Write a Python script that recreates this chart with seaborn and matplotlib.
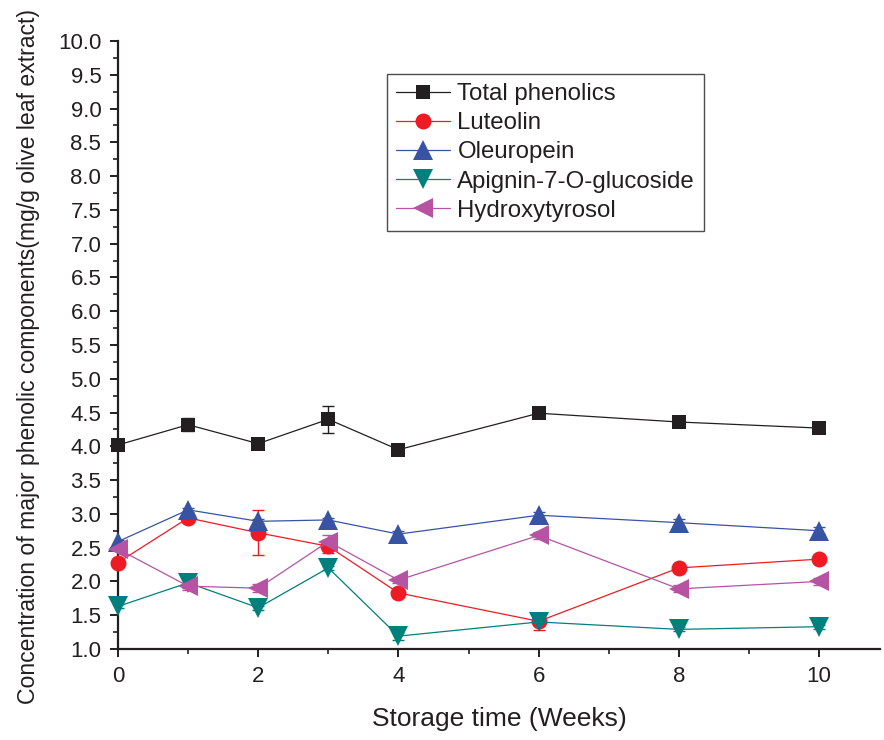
import numpy as np
import pandas as pd
import matplotlib
matplotlib.use("Agg")
import matplotlib.pyplot as plt
from matplotlib.ticker import MultipleLocator, FormatStrFormatter
import seaborn as sns

weeks = [0, 1, 2, 3, 4, 6, 8, 10]

total_phenolics = [4.02, 4.32, 4.04, 4.40, 3.95, 4.49, 4.36, 4.27]
total_phenolics_err = [0.03, 0.10, 0.03, 0.20, 0.03, 0.03, 0.03, 0.03]

luteolin = [2.28, 2.94, 2.72, 2.52, 1.83, 1.41, 2.20, 2.33]
luteolin_err = [0.05, 0.05, 0.33, 0.10, 0.03, 0.13, 0.03, 0.03]

oleuropein = [2.59, 3.06, 2.89, 2.91, 2.70, 2.98, 2.87, 2.75]
oleuropein_err = [0.03, 0.03, 0.03, 0.03, 0.05, 0.05, 0.05, 0.05]

apigenin = [1.63, 1.98, 1.61, 2.20, 1.19, 1.40, 1.29, 1.33]
apigenin_err = [0.03, 0.07, 0.03, 0.03, 0.05, 0.03, 0.03, 0.03]

hydroxytyrosol = [2.48, 1.93, 1.90, 2.59, 2.02, 2.68, 1.89, 2.00]
hydroxytyrosol_err = [0.05, 0.05, 0.06, 0.10, 0.05, 0.05, 0.05, 0.05]

series_names = ["Total phenolics", "Luteolin", "Oleuropein",
                "Apignin-7-O-glucoside", "Hydroxytyrosol"]
series_values = [total_phenolics, luteolin, oleuropein, apigenin, hydroxytyrosol]
series_errors = [total_phenolics_err, luteolin_err, oleuropein_err,
                 apigenin_err, hydroxytyrosol_err]

colors = ["#231f20", "#ed1c24", "#3953a4", "#00807d", "#b653a2"]
markers = ["s", "o", "^", "v", "<"]
msizes = [10.5, 11.5, 14, 14, 14]

sns.set_theme(style="ticks")
plt.rcParams["font.family"] = ["Liberation Sans", "DejaVu Sans"]

rows = []
for name, vals in zip(series_names, series_values):
    for w, v in zip(weeks, vals):
        rows.append({"week": w, "value": v, "series": name})
df = pd.DataFrame(rows)

fig = plt.figure(figsize=(8.84, 7.40), dpi=100)
ax = fig.add_axes([0.1335, 0.123, 0.862, 0.8216])

# error bars first so markers sit on top
for vals, errs, c in zip(series_values, series_errors, colors):
    ax.errorbar(weeks, vals, yerr=errs, fmt="none", ecolor=c,
                elinewidth=1.0, capsize=4, capthick=1.0, zorder=2)

for name, c, m, ms in zip(series_names, colors, markers, msizes):
    sub = df[df["series"] == name]
    sns.lineplot(data=sub, x="week", y="value", ax=ax, color=c,
                 marker=m, markersize=ms, markeredgewidth=0,
                 linewidth=0.9, label=name, zorder=3, clip_on=False)

ax.set_xlim(0, 10.87)
ax.set_ylim(1.0, 10.0)
ax.xaxis.set_major_locator(MultipleLocator(2))
ax.xaxis.set_minor_locator(MultipleLocator(1))
ax.yaxis.set_major_locator(MultipleLocator(0.5))
ax.yaxis.set_minor_locator(MultipleLocator(0.25))
ax.yaxis.set_major_formatter(FormatStrFormatter("%.1f"))

for side in ["top", "right"]:
    ax.spines[side].set_visible(False)
for side in ["left", "bottom"]:
    ax.spines[side].set_linewidth(1.6)
    ax.spines[side].set_color("#231f20")

ax.tick_params(axis="both", which="major", direction="out", length=6,
               width=1.4, labelsize=16, colors="#231f20", pad=6)
ax.tick_params(axis="both", which="minor", direction="out", length=3.5,
               width=1.2, colors="#231f20")

ax.set_xlabel("Storage time (Weeks)", fontsize=19, color="#231f20", labelpad=15)
ax.set_ylabel("Concentration of major phenolic components(mg/g olive leaf extract)",
              fontsize=16.6, color="#231f20")
ax.yaxis.set_label_coords(-0.103, 0.481)

leg = ax.legend(loc="upper left", bbox_to_anchor=(0.353, 0.946),
                borderaxespad=0, frameon=True, fancybox=False,
                fontsize=17.3, handlelength=2.25, labelspacing=0.3,
                handletextpad=0.3, borderpad=0.38)
leg.get_frame().set_edgecolor("#231f20")
leg.get_frame().set_linewidth(1.0)
for t in leg.get_texts():
    t.set_color("#231f20")

fig.savefig("out.png", dpi=100)
